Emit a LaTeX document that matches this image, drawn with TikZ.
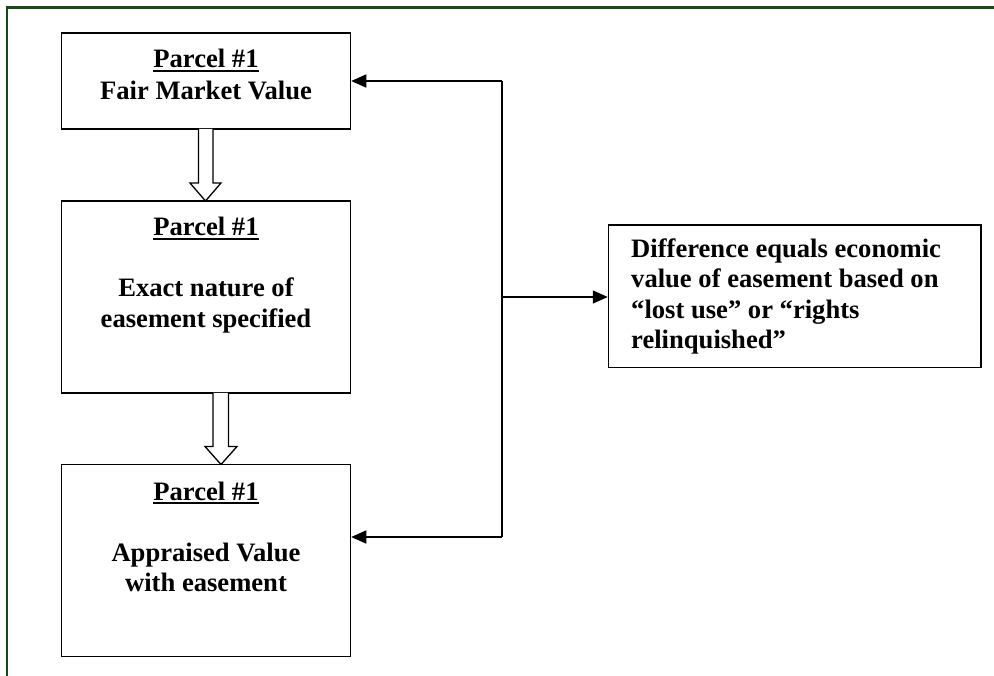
\documentclass[tikz,border=0pt]{standalone}
\usepackage{fontspec}
\setmainfont{Liberation Serif}
\usetikzlibrary{arrows.meta}
\definecolor{frameGreen}{RGB}{24,74,24}
\newcommand\parcelul[1]{\setbox0\hbox{#1}\rlap{\rule[-4.4pt]{\wd0}{2.2pt}}\box0}
\begin{document}
\begin{tikzpicture}[x=1pt,y=-1pt,
  boxstyle/.style={draw=black,line width=1.5pt,inner sep=0pt,minimum width=289pt},
  lbl/.style={font=\fontsize{26.6}{30.6}\selectfont\bfseries,inner sep=0pt,anchor=base},
  lblw/.style={lbl,anchor=base west},
  conn/.style={draw=black,line width=1.5pt},
  tip/.style={-{Triangle[length=15pt,width=13pt]}},
  blockarrow/.style={draw=black,line width=1.3pt,line join=miter,fill=white}]
\useasboundingbox (0,0) rectangle (994,676);
\clip (0,0) rectangle (994,676);
% outer frame
\draw[frameGreen,line width=2.3pt] (7,7.5) rectangle (1010,700);
% boxes
\node[boxstyle,minimum height=96pt] (b1) at (206,81) {};
\node[boxstyle,minimum height=192pt] (b2) at (206,297) {};
\node[boxstyle,minimum height=192pt] (b3) at (206,560.5) {};
\node[boxstyle,minimum width=372.5pt,minimum height=142.5pt] (b4) at (794.75,296.25) {};
% texts
\node[lbl] (t1a) at (206,68) {\parcelul{Parcel \#1}};
\node[lbl] (t1b) at (206,99.5) {Fair Market Value};
\node[lbl] (t2a) at (206,236) {\parcelul{Parcel \#1}};
\node[lbl] (t2b) at (206,297) {Exact nature of};
\node[lbl] (t2c) at (206,327.5) {easement specified};
\node[lbl] (t3a) at (206,500) {\parcelul{Parcel \#1}};
\node[lbl] (t3b) at (206,561) {Appraised Value};
\node[lbl] (t3c) at (206,591.5) {with easement};
\node[lblw] (t4a) at (631,257.5) {Difference equals economic};
\node[lblw] (t4b) at (631,288) {value of easement based on};
\node[lblw] (t4c) at (631,318.5) {“lost use” or “rights};
\node[lblw] (t4d) at (631,349) {relinquished”};
% block arrows
\draw[blockarrow] (198.5,129) -- (198.5,183) -- (190,183) -- (205.5,201) -- (221,183) -- (213,183) -- (213,129);
\draw[blockarrow] (213,393) -- (213,446.5) -- (205,446.5) -- (221,464.5) -- (237,446.5) -- (228.5,446.5) -- (228.5,393);
% connectors
\coordinate (jtop) at (502,81);
\coordinate (jmid) at (502,297);
\coordinate (jbot) at (502,537);
\draw[conn] (jtop) -- (jbot);
\draw[conn,tip] (jtop) -- (jtop -| b1.east);
\draw[conn,tip] (jmid) -- (jmid -| b4.west);
\draw[conn,tip] (jbot) -- (jbot -| b3.east);
\end{tikzpicture}
\end{document}
